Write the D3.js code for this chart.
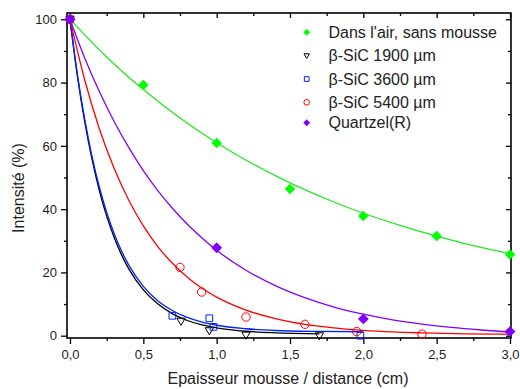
<!DOCTYPE html>
<html><head><meta charset="utf-8">
<script src="https://cdn.jsdelivr.net/npm/d3@7"></script>
<style>body{margin:0;background:#fff}svg{display:block}text{font-family:"Liberation Sans",Arial,sans-serif;fill:#222}</style>
</head><body>
<script>
// ---- data ----
const airX = [0, 0.5, 1.0, 1.5, 2.0, 2.5, 3.0];
const airY = [100, 79.2, 60.9, 46.4, 37.8, 31.5, 25.7];
const sic1900X = [0, 0.757, 0.95, 1.2, 1.7];
const sic1900Y = [100, 4.6, 1.6, 0.2, 0.0];
const sic3600X = [0, 0.698, 0.95, 0.978, 1.98];
const sic3600Y = [100, 6.3, 5.5, 2.8, 0.0];
const sic5400X = [0, 0.75, 0.898, 1.2, 1.602, 1.955, 2.4];
const sic5400Y = [100, 21.6, 13.8, 5.9, 3.6, 1.3, 0.5];
const quartzX = [0, 1.0, 2.0, 3.0];
const quartzY = [100, 27.8, 5.3, 1.3];
// fitted curves
const airFitX = [0, 0.25, 0.5, 0.75, 1.0, 1.25, 1.5, 1.75, 2.0, 2.25, 2.5, 2.75, 3.0];
const airFitY = [100, 88.1, 77.8, 68.8, 61.0, 54.2, 48.3, 43.2, 38.7, 34.9, 31.5, 28.5, 26.0];
const fit1900X = [0, 0.05, 0.1, 0.15, 0.2, 0.25, 0.3, 0.35, 0.4, 0.5, 0.6, 0.7, 0.8, 0.9, 1.0, 1.2, 1.4, 1.7];
const fit1900Y = [100, 82.3, 67.7, 55.8, 45.9, 37.8, 31.2, 25.7, 21.2, 14.5, 10.0, 6.9, 4.8, 3.4, 2.5, 1.4, 0.9, 0.6];
const fit3600X = [0, 0.05, 0.1, 0.15, 0.2, 0.25, 0.3, 0.35, 0.4, 0.5, 0.6, 0.7, 0.8, 0.9, 1.0, 1.2, 1.4, 1.7, 2.0];
const fit3600Y = [100, 82.7, 68.5, 56.7, 47.0, 39.0, 32.4, 26.9, 22.4, 15.6, 11.0, 7.9, 5.8, 4.3, 3.3, 2.2, 1.65, 1.35, 1.25];
const fit5400X = [0, 0.1, 0.2, 0.3, 0.4, 0.5, 0.6, 0.7, 0.8, 0.9, 1.0, 1.2, 1.4, 1.6, 1.8, 2.0, 2.2, 2.4, 2.7, 3.0];
const fit5400Y = [100, 80.9, 65.4, 53.0, 42.9, 34.7, 28.1, 22.8, 18.5, 15.0, 12.2, 8.1, 5.4, 3.6, 2.5, 1.7, 1.2, 0.9, 0.6, 0.5];
const fitQX = [0, 0.1, 0.2, 0.3, 0.4, 0.5, 0.6, 0.7, 0.8, 0.9, 1.0, 1.2, 1.4, 1.6, 1.8, 2.0, 2.2, 2.4, 2.6, 2.8, 3.0];
const fitQY = [100, 87.8, 77.2, 67.8, 59.5, 52.2, 45.8, 40.2, 35.2, 30.9, 27.0, 20.7, 15.8, 12.0, 9.05, 6.8, 5.0, 3.66, 2.6, 1.8, 1.16];
const xTicks = [0, 0.5, 1.0, 1.5, 2.0, 2.5, 3.0];
const yTicks = [0, 20, 40, 60, 80, 100];
const legendLabels = ["Dans l'air, sans mousse", "\u03b2-SiC 1900 \u00b5m", "\u03b2-SiC 3600 \u00b5m", "\u03b2-SiC 5400 \u00b5m", "Quartzel(R)"];

const zip = (a, b) => a.map((v, i) => [v, b[i]]);

const W = 520, H = 389;
const L = 67, R = 511, T = 13, B = 338;
const svg = d3.select("body").append("svg").attr("width", W).attr("height", H);
const x = d3.scaleLinear().domain([0, 3]).range([70, 510]);
const y = d3.scaleLinear().domain([0, 100]).range([335.7, 19.3]);

const GREEN = "#00ff00", GREENLINE = "#22e822", BLACK = "#000000", BLUE = "#0022ff", RED = "#ff0000", PURPLE = "#8000ff";

// axes
const fmt = d => d3.format(".1f")(d).replace(".", ",");
const xMinor = d3.range(0, 3.01, 0.25);
const yMinor = d3.range(0, 100.1, 10);

svg.append("g").attr("transform", `translate(0,${B})`)
  .call(d3.axisBottom(x).tickValues(xTicks).tickFormat(fmt).tickSize(6).tickPadding(6));
svg.append("g").attr("transform", `translate(0,${B})`)
  .call(d3.axisBottom(x).tickValues(xMinor.filter(v => !xTicks.includes(v))).tickFormat("").tickSize(3));
svg.append("g").attr("transform", `translate(${L},0)`)
  .call(d3.axisLeft(y).tickValues(yTicks).tickSize(6).tickPadding(4));
svg.append("g").attr("transform", `translate(${L},0)`)
  .call(d3.axisLeft(y).tickValues(yMinor.filter(v => !yTicks.includes(v))).tickFormat("").tickSize(3));
// top & right inward ticks
svg.append("g").attr("transform", `translate(0,${T})`)
  .call(d3.axisTop(x).tickValues(xTicks).tickFormat("").tickSize(-5));
svg.append("g").attr("transform", `translate(0,${T})`)
  .call(d3.axisTop(x).tickValues(xMinor.filter(v => !xTicks.includes(v))).tickFormat("").tickSize(-3));
svg.append("g").attr("transform", `translate(${R},0)`)
  .call(d3.axisRight(y).tickValues(yTicks).tickFormat("").tickSize(-5));
svg.append("g").attr("transform", `translate(${R},0)`)
  .call(d3.axisRight(y).tickValues(yMinor.filter(v => !yTicks.includes(v))).tickFormat("").tickSize(-3));
svg.selectAll(".domain").remove();
svg.selectAll(".tick line").attr("stroke", "#000").attr("stroke-width", 1.3);
svg.selectAll(".tick text").style("font-size", "13px").style("font-family", "'Liberation Sans', Arial, sans-serif").attr("fill", "#222");

// frame
svg.append("rect").attr("x", L).attr("y", T).attr("width", R - L).attr("height", B - T)
  .attr("fill", "none").attr("stroke", "#000").attr("stroke-width", 1.6);

// clip
svg.append("clipPath").attr("id", "clip").append("rect").attr("x", L).attr("y", T).attr("width", R - L).attr("height", B - T);
const plot = svg.append("g").attr("clip-path", "url(#clip)");

const line = d3.line().x(d => x(d[0])).y(d => y(d[1])).curve(d3.curveMonotoneX);
const curves = [
  [zip(airFitX, airFitY), GREENLINE],
  [zip(fit1900X, fit1900Y), BLACK],
  [zip(fit3600X, fit3600Y), BLUE],
  [zip(fit5400X, fit5400Y), RED],
  [zip(fitQX, fitQY), PURPLE]
];
curves.forEach(([d, c]) => plot.append("path").datum(d).attr("d", line)
  .attr("fill", "none").attr("stroke", c).attr("stroke-width", 1.3));

// markers
const sym = (type, size) => d3.symbol().type(type).size(size);
const triDown = {
  draw(ctx, size) {
    const s = Math.sqrt(size);
    ctx.moveTo(-s / 2, -s * 0.35); ctx.lineTo(s / 2, -s * 0.35); ctx.lineTo(0, s * 0.5); ctx.closePath();
  }
};
const DIAMOND = d3.symbolDiamond2 || d3.symbolDiamond;
function markers(xs, ys, type, size, fill, stroke, sw) {
  svg.append("g").selectAll("path").data(zip(xs, ys)).join("path")
    .attr("transform", d => `translate(${x(d[0])},${y(d[1])})`)
    .attr("d", sym(type, size)).attr("fill", fill).attr("stroke", stroke).attr("stroke-width", sw);
}
markers(airX, airY, DIAMOND, 70, GREEN, "none", 0);
markers(sic1900X, sic1900Y, triDown, 70, "none", BLACK, 1);
markers(sic3600X, sic3600Y, d3.symbolSquare, 45, "none", BLUE, 1);
markers(sic5400X, sic5400Y, d3.symbolCircle, 55, "none", RED, 1);
markers(quartzX, quartzY, DIAMOND, 75, PURPLE, "none", 0);

// legend
const legY = [32.3, 55.7, 79, 102.3, 122.7];
const legSym = [
  [DIAMOND, 30, GREEN, "none"],
  [triDown, 30, "none", BLACK],
  [d3.symbolSquare, 22, "none", BLUE],
  [d3.symbolCircle, 25, "none", RED],
  [DIAMOND, 30, PURPLE, "none"]
];
const lg = svg.append("g");
legendLabels.forEach((t, i) => {
  const [type, size, fill, stroke] = legSym[i];
  lg.append("path").attr("transform", `translate(306.7,${legY[i]})`)
    .attr("d", sym(type, size)).attr("fill", fill).attr("stroke", stroke).attr("stroke-width", 1);
  lg.append("text").attr("x", 328.5).attr("y", legY[i]).attr("dy", "0.36em")
    .style("font-size", "16px").text(t);
});

// axis titles
svg.append("text").attr("x", 288).attr("y", 384).attr("text-anchor", "middle")
  .style("font-size", "16px").text("Epaisseur mousse / distance (cm)");
svg.append("text").attr("transform", "translate(24,188) rotate(-90)").attr("text-anchor", "middle")
  .style("font-size", "16px").text("Intensit\u00e9 (%)");
</script>
</body></html>
